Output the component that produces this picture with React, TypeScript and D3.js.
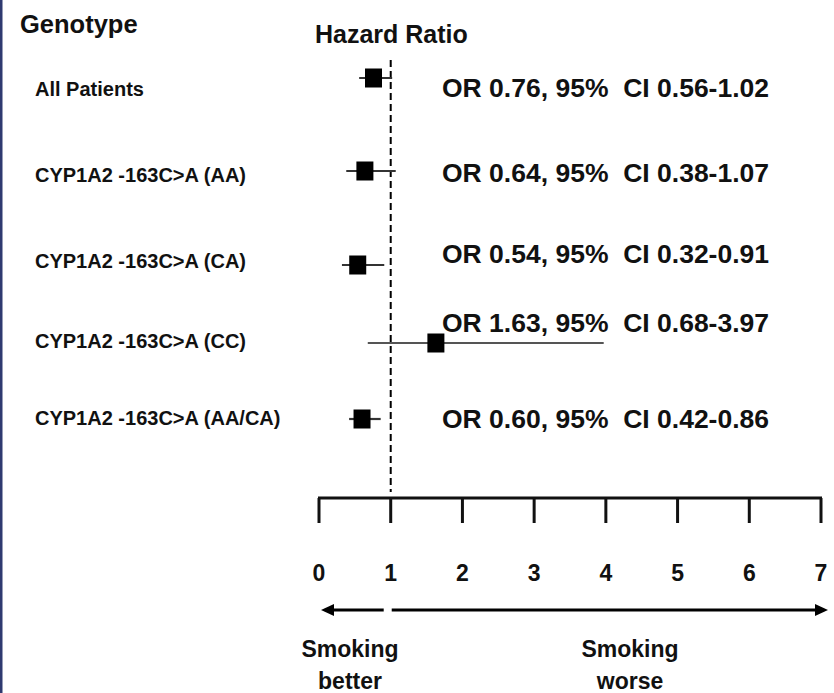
import React from "react";
import * as d3 from "d3";

// ---- data ----
const categories = [
  "All Patients",
  "CYP1A2 -163C>A (AA)",
  "CYP1A2 -163C>A (CA)",
  "CYP1A2 -163C>A (CC)",
  "CYP1A2 -163C>A (AA/CA)",
];
const orValues = [0.76, 0.64, 0.54, 1.63, 0.6];
const ciLow = [0.56, 0.38, 0.32, 0.68, 0.42];
const ciHigh = [1.02, 1.07, 0.91, 3.97, 0.86];
const tickValues = [0, 1, 2, 3, 4, 5, 6, 7];
const referenceValue = 1;

// ---- layout (row positions of the original figure, uneven) ----
const markerRowY = [78, 171, 265, 343, 419];
const labelRowY = [96, 182, 268, 348, 425];
const orTextRowY = [97, 182, 263, 332, 428];

const W = 834;
const H = 693;
const FONT = "'Liberation Sans', Arial, Helvetica, sans-serif";
const INK = "#111";

export default function App() {
  const x = d3.scaleLinear().domain([0, 7]).range([319, 821]);
  const idx = categories.map((_, i) => i);
  const yMarker = d3.scaleOrdinal<number, number>().domain(idx).range(markerRowY);
  const yLabel = d3.scaleOrdinal<number, number>().domain(idx).range(labelRowY);
  const yText = d3.scaleOrdinal<number, number>().domain(idx).range(orTextRowY);

  const axisY = 498;
  const tickLen = 25;
  const arrowY = 610;
  const sqW = 17;
  const sqH = 19;

  const fmt = d3.format(".2f");

  const leftStart = x(referenceValue) - 7;
  const leftTip = x(0) + 2;
  const rightStart = x(referenceValue) + 1;
  const rightTip = x(7) + 7;
  const ah = 13;
  const aw = 6;

  return (
    <svg
      width={W}
      height={H}
      viewBox={`0 0 ${W} ${H}`}
      style={{ position: "absolute", left: 0, top: 0, background: "#fff" }}
      fontFamily={FONT}
    >
      <rect x={0} y={0} width={W} height={H} fill="#fff" />
      <rect x={0} y={0} width={2.5} height={H} fill="#2f3a70" />

      <text x={20} y={33} fontSize={25.5} fontWeight="bold" fill={INK}>
        Genotype
      </text>
      <text x={315} y={43} fontSize={25} fontWeight="bold" fill={INK}>
        Hazard Ratio
      </text>

      {/* reference line */}
      <line
        x1={x(referenceValue)}
        x2={x(referenceValue)}
        y1={60}
        y2={492}
        stroke="#000"
        strokeWidth={2}
        strokeDasharray="7,4"
      />

      {idx.map((i) => (
        <g key={i}>
          <text x={35} y={yLabel(i)} fontSize={20} fontWeight="bold" fill={INK}>
            {categories[i]}
          </text>
          <line
            x1={x(ciLow[i])}
            x2={x(ciHigh[i])}
            y1={yMarker(i)}
            y2={yMarker(i)}
            stroke={i === 3 ? "#555" : "#333"}
            strokeWidth={2.2}
          />
          <rect
            x={x(orValues[i]) - sqW / 2}
            y={yMarker(i) - sqH / 2}
            width={sqW}
            height={sqH}
            fill="#000"
          />
          <text
            x={442}
            y={yText(i)}
            fontSize={26.5}
            fontWeight="bold"
            fill={INK}
            style={{ whiteSpace: "pre" }}
          >
            {`OR ${fmt(orValues[i])}, 95%  CI ${fmt(ciLow[i])}-${fmt(ciHigh[i])}`}
          </text>
        </g>
      ))}

      {/* axis */}
      <line x1={x(0) - 1} x2={x(7) + 1} y1={axisY} y2={axisY} stroke="#111" strokeWidth={3} />
      {tickValues.map((t) => (
        <g key={t}>
          <line
            x1={x(t)}
            x2={x(t)}
            y1={axisY}
            y2={axisY + tickLen}
            stroke="#111"
            strokeWidth={3}
          />
          <text
            x={x(t)}
            y={581}
            fontSize={23}
            fontWeight="bold"
            textAnchor="middle"
            fill={INK}
          >
            {t}
          </text>
        </g>
      ))}

      {/* arrows */}
      <line x1={leftStart} x2={leftTip + ah - 1} y1={arrowY} y2={arrowY} stroke="#000" strokeWidth={3} />
      <polygon
        points={`${leftTip},${arrowY} ${leftTip + ah},${arrowY - aw} ${leftTip + ah},${arrowY + aw}`}
        fill="#000"
      />
      <line x1={rightStart} x2={rightTip - ah + 1} y1={arrowY} y2={arrowY} stroke="#000" strokeWidth={3} />
      <polygon
        points={`${rightTip},${arrowY} ${rightTip - ah},${arrowY - aw} ${rightTip - ah},${arrowY + aw}`}
        fill="#000"
      />

      <text x={350} y={657} fontSize={23} fontWeight="bold" textAnchor="middle" fill={INK}>
        Smoking
      </text>
      <text x={350} y={689} fontSize={23} fontWeight="bold" textAnchor="middle" fill={INK}>
        better
      </text>
      <text x={630} y={657} fontSize={23} fontWeight="bold" textAnchor="middle" fill={INK}>
        Smoking
      </text>
      <text x={630} y={689} fontSize={23} fontWeight="bold" textAnchor="middle" fill={INK}>
        worse
      </text>
    </svg>
  );
}
